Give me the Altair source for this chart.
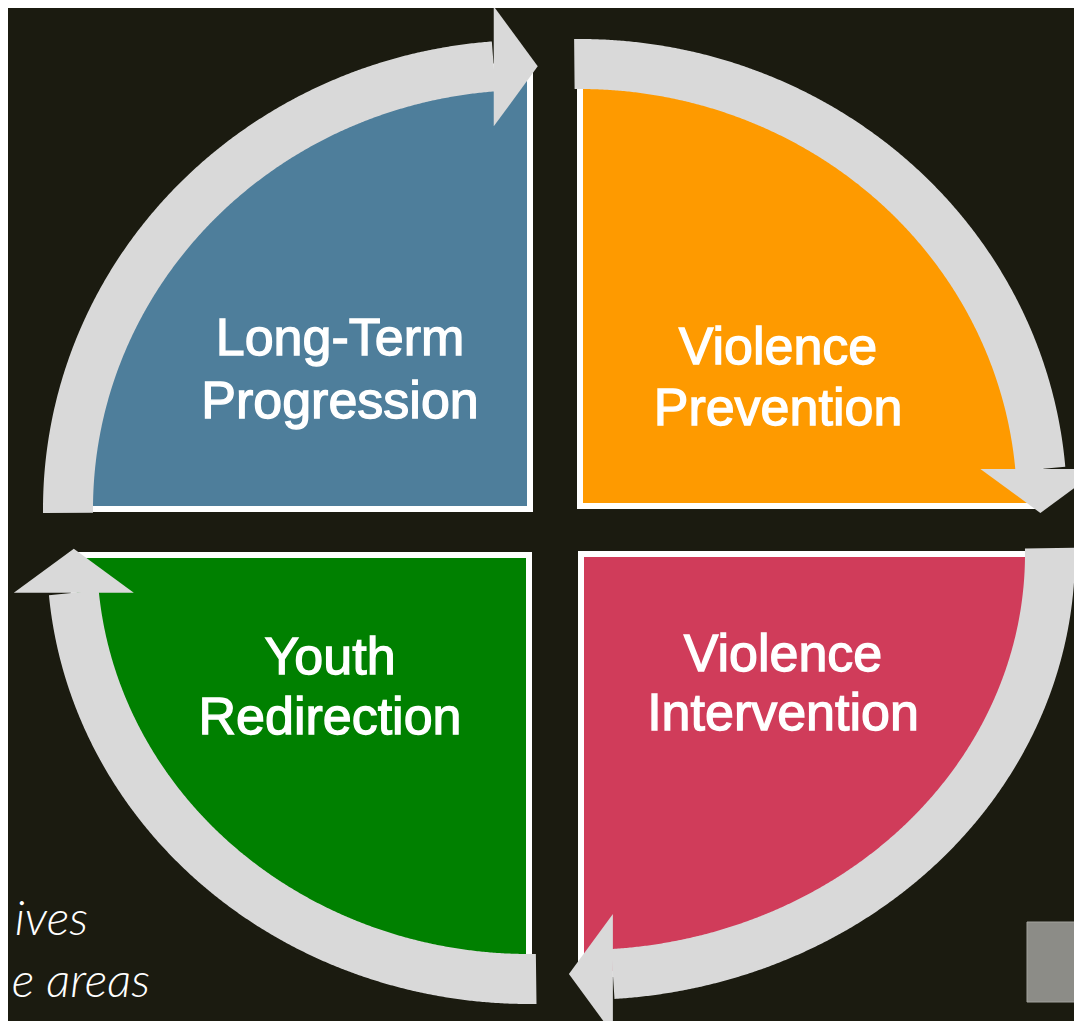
import numpy as np
import pandas as pd
import altair as alt

# ---- content ----
quadrant = ["top-left", "top-right", "bottom-right", "bottom-left"]
line1 = ["Long-Term", "Violence", "Violence", "Youth"]
line2 = ["Progression", "Prevention", "Intervention", "Redirection"]
fills = ["#4e7e9b", "#fe9a00", "#d03c5a", "#008000"]
side_text = ["ives", "e areas"]

# ---- layout (page pixels) ----
corner_x = [530, 580, 581, 529]
corner_y = [509, 506, 554, 555]
radius_x = [462, 462, 469, 457]
radius_y = [444, 442, 421, 424]
wedge_start = [90, 0, -90, -180]          # math degrees, ccw
band_start = [180.5, 90.7, 0.8, -89.1]
band_end = [94.5, 4.8, -86.1, -174.9]
arrow_angle = [90, 180, 270, 0]
text_x = [340, 778, 783, 330]
text_y1 = [355, 364, 671, 674]
text_y2 = [418, 425, 730, 734]
side_x = [88, 150]
side_y = [935, 997]
box_x = [1027, 1095]
box_y = [922, 1002]

W, H = 1066, 1013
BG = "#1b1b10"
GRAY = "#d9d9d9"

xs = alt.Scale(domain=[8, 8 + W], range=[0, W], nice=False, zero=False)
ys = alt.Scale(domain=[8, 8 + H], range=[0, H], nice=False, zero=False)


def pt(q, deg):
    p = np.radians(deg)
    return corner_x[q] + radius_x[q] * np.cos(p), corner_y[q] - radius_y[q] * np.sin(p)


# wedges
wrows = []
for q in range(4):
    for t in np.linspace(0, 90, 361):
        x, y = pt(q, wedge_start[q] + t)
        wrows.append(dict(q=quadrant[q], x=x, y=y, y2=corner_y[q], fill=fills[q]))
wedge_df = pd.DataFrame(wrows)

# bands
brows = []
for q in range(4):
    for i, a in enumerate(np.linspace(band_start[q], band_end[q], 400)):
        x, y = pt(q, a)
        brows.append(dict(q=quadrant[q], i=i, x=x, y=y))
band_df = pd.DataFrame(brows)

# arrowheads
arows = []
for q in range(4):
    x, y = pt(q, band_end[q])
    arows.append(dict(q=quadrant[q], x=x, y=y, angle=arrow_angle[q]))
arrow_df = pd.DataFrame(arows)

text_df = pd.DataFrame(
    dict(text=line1 + line2, x=text_x + text_x, y=text_y1 + text_y2)
)
side_df = pd.DataFrame(dict(text=side_text, x=side_x, y=side_y))
box_df = pd.DataFrame(dict(x=[box_x[0]], x2=[box_x[1]], y=[box_y[0]], y2=[box_y[1]]))

X = lambda f="x:Q": alt.X(f, scale=xs, axis=None)
Y = lambda f="y:Q": alt.Y(f, scale=ys, axis=None)

box = alt.Chart(box_df).mark_rect(color="#8c8c87", stroke="#a3a39e", strokeWidth=1).encode(
    x=X(), x2="x2:Q", y=Y(), y2="y2:Q"
)

wedges = alt.Chart(wedge_df).mark_area(stroke="white", strokeWidth=6, opacity=1).encode(
    x=X(),
    y=alt.Y("y:Q", scale=ys, axis=None, stack=None),
    y2="y2:Q",
    fill=alt.Fill("fill:N", scale=None),
    detail="q:N",
)

bands = alt.Chart(band_df).mark_line(
    color=GRAY, strokeWidth=50, strokeCap="butt", strokeJoin="round"
).encode(x=X(), y=Y(), detail="q:N", order="i:Q")

arrows = alt.Chart(arrow_df).mark_point(
    shape="M -1 0 L 1 0 L 0 -0.733 Z", size=14400, filled=True,
    color=GRAY, opacity=1, strokeWidth=0,
).encode(x=X(), y=Y(), angle=alt.Angle("angle:Q", scale=None))

labels = alt.Chart(text_df).mark_text(
    font="Liberation Sans", fontSize=52, color="white", align="center",
    baseline="alphabetic", stroke="white", strokeWidth=1.3,
).encode(x=X(), y=Y(), text="text:N")

side = alt.Chart(side_df).mark_text(
    font="Lato", fontStyle="italic", fontWeight=300, fontSize=48, color="white",
    align="right", baseline="alphabetic",
).encode(x=X(), y=Y(), text="text:N")

chart = alt.layer(box, wedges, bands, arrows, labels, side).properties(
    width=W, height=H, background=BG, padding=0,
    autosize=alt.AutoSizeParams(type="none"),
).configure_view(stroke=None)

chart.save("out.html", embed_options={"renderer": "svg", "actions": False})
